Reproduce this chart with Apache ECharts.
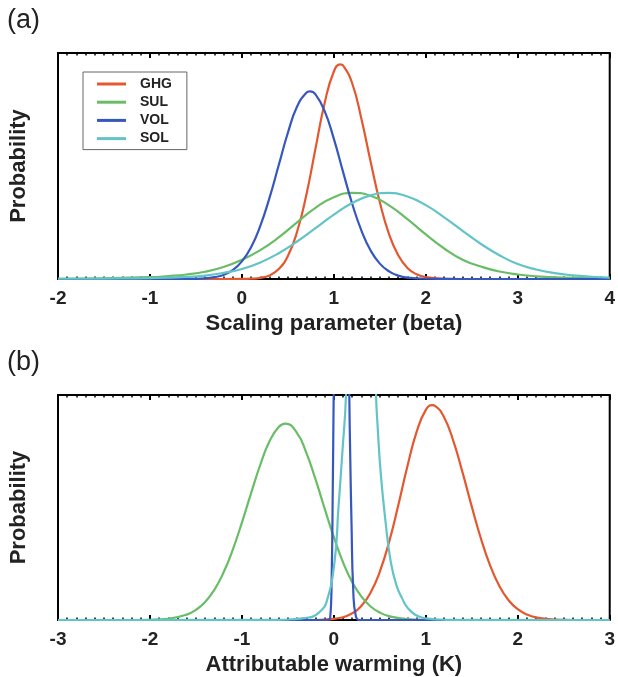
<!DOCTYPE html>
<html><head><meta charset="utf-8">
<script src="https://cdn.jsdelivr.net/npm/echarts@6/dist/echarts.min.js"></script>
<style>html,body{margin:0;padding:0;background:#fff}#c{width:618px;height:677px}</style>
</head><body><div id="c"></div>
<script>
// ---------- data ----------
const seriesNames = ['GHG', 'SUL', 'VOL', 'SOL'];
const betaTicks = [-2, -1, 0, 1, 2, 3, 4];
const warmTicks = [-3, -2, -1, 0, 1, 2, 3];

// panel (a): scaling parameter (beta) -> relative probability
const ghgBeta = [[-2,0],[-0.5,0],[0,0.0004],[0.1,0.0015],[0.2,0.005],[0.3,0.016],[0.4,0.044],[0.5,0.102],[0.6,0.209],[0.7,0.371],[0.8,0.576],[0.9,0.779],[1.0,0.918],[1.07,0.95],[1.1,0.945],[1.2,0.865],[1.3,0.708],[1.4,0.519],[1.5,0.340],[1.6,0.199],[1.7,0.105],[1.8,0.049],[1.9,0.021],[2.0,0.008],[2.2,0.001],[2.5,0],[4,0]];
const sulBeta = [[-2,0.001],[-1.5,0.003],[-1,0.008],[-0.8,0.013],[-0.6,0.02],[-0.4,0.032],[-0.2,0.053],[0,0.085],[0.2,0.128],[0.4,0.184],[0.6,0.251],[0.8,0.315],[1.0,0.362],[1.2,0.381],[1.4,0.368],[1.6,0.326],[1.8,0.265],[2.0,0.197],[2.2,0.135],[2.4,0.085],[2.6,0.055],[2.8,0.033],[3.0,0.020],[3.2,0.012],[3.5,0.006],[4,0.002]];
const volBeta = [[-2,0],[-1,0],[-0.6,0.0003],[-0.4,0.003],[-0.3,0.008],[-0.2,0.018],[-0.1,0.039],[0,0.078],[0.1,0.141],[0.2,0.235],[0.3,0.359],[0.4,0.503],[0.5,0.647],[0.6,0.763],[0.7,0.824],[0.74,0.83],[0.8,0.817],[0.9,0.743],[1.0,0.620],[1.1,0.474],[1.2,0.332],[1.3,0.214],[1.4,0.126],[1.5,0.068],[1.6,0.034],[1.7,0.015],[1.8,0.006],[2.0,0.001],[2.4,0],[4,0]];
const solBeta = [[-2,0.001],[-1.5,0.002],[-1,0.004],[-0.6,0.009],[-0.4,0.015],[-0.2,0.027],[0,0.044],[0.2,0.073],[0.4,0.114],[0.6,0.166],[0.8,0.225],[1.0,0.285],[1.2,0.336],[1.4,0.370],[1.6,0.381],[1.8,0.365],[2.0,0.327],[2.2,0.273],[2.4,0.213],[2.6,0.155],[2.8,0.105],[3.0,0.066],[3.2,0.042],[3.4,0.026],[3.6,0.016],[3.8,0.010],[4,0.006]];

// panel (b): attributable warming (K) -> relative probability
const ghgWarm = [[-3,0],[-0.2,0],[0,0.005],[0.2,0.03],[0.3,0.063],[0.4,0.122],[0.5,0.215],[0.6,0.346],[0.7,0.509],[0.8,0.683],[0.9,0.836],[1.0,0.934],[1.07,0.955],[1.1,0.952],[1.2,0.90],[1.3,0.795],[1.4,0.655],[1.5,0.504],[1.6,0.361],[1.7,0.242],[1.8,0.151],[1.9,0.088],[2.0,0.048],[2.1,0.024],[2.2,0.0115],[2.4,0.002],[2.6,0],[3,0]];
const sulWarm = [[-3,0],[-2.2,0],[-2,0.001],[-1.8,0.0055],[-1.6,0.024],[-1.5,0.045],[-1.4,0.08],[-1.3,0.134],[-1.2,0.211],[-1.1,0.312],[-1.0,0.433],[-0.9,0.564],[-0.8,0.69],[-0.7,0.794],[-0.6,0.858],[-0.526,0.873],[-0.4,0.831],[-0.3,0.744],[-0.2,0.626],[-0.1,0.495],[0,0.368],[0.1,0.256],[0.2,0.168],[0.3,0.104],[0.4,0.06],[0.5,0.033],[0.6,0.017],[0.8,0.0036],[1.0,0.0005],[1.2,0],[3,0]];
const volWarm = [[-3,0],[-0.1,0],[-0.04,0.01],[-0.023,0.21],[-0.012,0.58],[-0.002,1.0],[0.01,1.6],[0.04,3],[0.08,3.5],[0.12,3],[0.155,1.6],[0.168,1.0],[0.178,0.73],[0.192,0.43],[0.211,0.13],[0.24,0.015],[0.28,0],[3,0]];
const solWarm = [[-3,0],[-0.6,0.001],[-0.4,0.005],[-0.3,0.01],[-0.23,0.015],[-0.15,0.038],[-0.084,0.074],[0.005,0.25],[0.05,0.5],[0.095,0.76],[0.132,1.0],[0.18,1.8],[0.3,2.5],[0.42,1.8],[0.459,1.0],[0.474,0.874],[0.51,0.652],[0.564,0.43],[0.618,0.26],[0.68,0.155],[0.744,0.095],[0.8,0.055],[0.889,0.022],[1.0,0.007],[1.2,0.001],[3,0]];

// ---------- styling ----------
const colors = { GHG: '#E4582F', SUL: '#68BD66', VOL: '#3557BE', SOL: '#62C4C6' };
const FONT = "'Liberation Sans', Arial, Helvetica, sans-serif";

function axisPair(gridIndex, ticks, name) {
  const base = {
    type: 'value', gridIndex, min: ticks[0], max: ticks[ticks.length - 1], interval: 1,
    splitLine: { show: false },
    axisLine: { show: false },
    axisTick: { show: true, inside: true, length: 5, lineStyle: { color: '#000', width: 2 } },
    minorTick: { show: true, splitNumber: 10, length: 2.5, lineStyle: { color: '#000', width: 1.5 } },
    minorSplitLine: { show: false }
  };
  return [
    Object.assign({}, base, {
      position: 'bottom',
      axisLabel: { show: true, margin: 10, fontFamily: FONT, fontWeight: 'bold', fontSize: 19, color: '#222' },
      name: name, nameLocation: 'middle', nameGap: 34,
      nameTextStyle: { fontFamily: FONT, fontWeight: 'bold', fontSize: 22, color: '#222' }
    }),
    Object.assign({}, base, { position: 'top', axisLabel: { show: false } })
  ];
}
function yAxis(gridIndex) {
  return {
    type: 'value', gridIndex, min: 0, max: 1,
    axisLine: { show: false }, axisTick: { show: false }, axisLabel: { show: false }, splitLine: { show: false },
    name: 'Probability', nameLocation: 'middle', nameGap: 28,
    nameTextStyle: { fontFamily: FONT, fontWeight: 'bold', fontSize: 22, color: '#222' }
  };
}
function lineSeries(name, data, xi, yi) {
  return {
    type: 'line', name, data, xAxisIndex: xi, yAxisIndex: yi,
    showSymbol: false, symbol: 'none', smooth: 0.5,
    lineStyle: { color: colors[name], width: 2.2 }, itemStyle: { color: colors[name] },
    animation: false, z: 3
  };
}

const panelA = [ghgBeta, sulBeta, volBeta, solBeta];
const panelB = [ghgWarm, sulWarm, volWarm, solWarm];

const option = {
  backgroundColor: '#fff',
  animation: false,
  grid: [
    { left: 57, top: 53, width: 555, height: 226, show: true, borderColor: '#000', borderWidth: 2, backgroundColor: 'transparent' },
    { left: 57, top: 395, width: 555, height: 225, show: true, borderColor: '#000', borderWidth: 2, backgroundColor: 'transparent' }
  ],
  xAxis: [].concat(axisPair(0, betaTicks, 'Scaling parameter (beta)'), axisPair(1, warmTicks, 'Attributable warming (K)')),
  yAxis: [yAxis(0), yAxis(1)],
  legend: {
    data: seriesNames, orient: 'vertical', left: 83, top: 72,
    icon: 'rect', itemWidth: 29, itemHeight: 3, itemGap: 4.2,
    padding: [5, 15, 4, 14], borderColor: '#666', borderWidth: 1, backgroundColor: '#fff',
    textStyle: { fontFamily: FONT, fontWeight: 'bold', fontSize: 14, color: '#222', lineHeight: 14, padding: [0, 0, 0, 9] },
    selectedMode: false
  },
  graphic: [
    { type: 'text', left: 7, top: 7, style: { text: '(a)', font: "27px 'Liberation Sans', Arial, sans-serif", fill: '#222' } },
    { type: 'text', left: 7, top: 349, style: { text: '(b)', font: "27px 'Liberation Sans', Arial, sans-serif", fill: '#222' } }
  ],
  series: [].concat(
    seriesNames.map((n, i) => lineSeries(n, panelA[i], 0, 0)),
    seriesNames.map((n, i) => lineSeries(n, panelB[i], 2, 1))
  )
};
const chart = echarts.init(document.getElementById('c'), null, { renderer: 'canvas' });
chart.setOption(option);
</script></body></html>
